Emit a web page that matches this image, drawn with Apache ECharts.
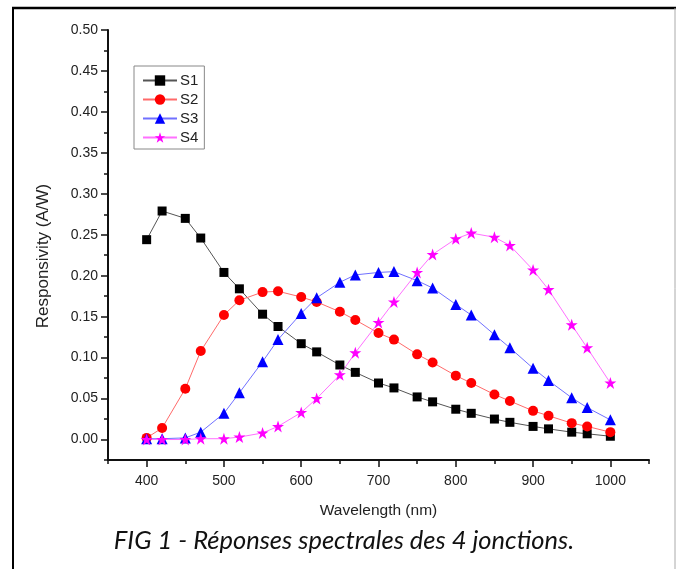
<!DOCTYPE html>
<html>
<head>
<meta charset="utf-8">
<script src="https://cdn.jsdelivr.net/npm/echarts@6/dist/echarts.min.js"></script>
<style>
	html, body { margin: 0; padding: 0; background: #fff; }
	#chart { width: 676px; height: 569px; }
</style>
</head>
<body>
<div id="chart"></div>
<script>
	// wavelengths (nm)
	var wavelengths = [400, 420, 450, 470, 500, 520, 550, 570, 600, 620, 650, 670, 700,
		720, 750, 770, 800, 820, 850, 870, 900, 920, 950, 970, 1000];

	// responsivity (A/W)
	var s1 = [0.244, 0.279, 0.270, 0.246, 0.204, 0.184, 0.153, 0.138, 0.117, 0.107, 0.091, 0.082, 0.069,
		0.063, 0.052, 0.046, 0.037, 0.032, 0.025, 0.021, 0.016, 0.013, 0.009, 0.007, 0.004];
	var s2 = [0.002, 0.014, 0.062, 0.108, 0.152, 0.170, 0.180, 0.181, 0.174, 0.168, 0.156, 0.146, 0.130,
		0.122, 0.104, 0.094, 0.078, 0.069, 0.055, 0.047, 0.035, 0.029, 0.020, 0.016, 0.009];
	var s3 = [0.001, 0.001, 0.002, 0.009, 0.032, 0.057, 0.095, 0.122, 0.154, 0.173, 0.192, 0.201, 0.204,
		0.205, 0.194, 0.185, 0.165, 0.152, 0.128, 0.112, 0.087, 0.072, 0.051, 0.039, 0.024];
	var s4 = [0.000, 0.000, 0.000, 0.001, 0.001, 0.003, 0.008, 0.016, 0.033, 0.050, 0.079, 0.106, 0.143,
		0.168, 0.204, 0.226, 0.245, 0.252, 0.247, 0.237, 0.207, 0.183, 0.140, 0.112, 0.069];

	var seriesNames = ['S1', 'S2', 'S3', 'S4'];

	// tick labels
	var xTicks = [400, 500, 600, 700, 800, 900, 1000];
	var yTicks = [0, 0.05, 0.10, 0.15, 0.20, 0.25, 0.30, 0.35, 0.40, 0.45, 0.50];

	var caption = 'FIG 1 - Réponses spectrales des 4 jonctions.';

	function pairs(ys) {
		return wavelengths.map(function(x, i) { return [x, ys[i]]; });
	}

	var font = 'Liberation Sans';
	var axisColor = '#111';

	function makeSeries(name, ys, symbol, size, markColor, lineColor) {
		return {
			name: name,
			type: 'line',
			xAxisIndex: 0,
			yAxisIndex: 0,
			symbol: symbol,
			symbolSize: size,
			showAllSymbol: true,
			lineStyle: { color: lineColor, width: 1 },
			itemStyle: { color: markColor, borderWidth: 0 },
			data: pairs(ys)
		};
	}

	var option = {
		backgroundColor: '#fff',
		animation: false,
		grid: { left: 108, right: 27, top: 30, bottom: 109 },
		legend: {
			orient: 'vertical',
			left: 134,
			top: 66,
			padding: [7, 6, 4, 8],
			itemGap: 4,
			itemWidth: 34,
			itemHeight: 13,
			borderColor: '#888',
			borderWidth: 1,
			textStyle: { fontFamily: font, fontSize: 15, color: '#222', padding: [0, 0, 0, -2] },
			data: seriesNames
		},
		xAxis: [{
			type: 'value',
			min: 350,
			max: 1050,
			name: 'Wavelength (nm)',
			nameLocation: 'middle',
			nameGap: 43,
			nameTextStyle: { fontFamily: font, fontSize: 15.5, color: '#222' },
			axisLine: { onZero: false, lineStyle: { color: axisColor, width: 2 } },
			axisTick: { customValues: xTicks, length: 7, lineStyle: { color: axisColor, width: 1.5 } },
			axisLabel: {
				customValues: xTicks,
				margin: 14,
				fontFamily: font,
				fontSize: 14,
				color: '#222',
				formatter: function(v) { return String(v); }
			},
			splitLine: { show: false }
		}, {
			type: 'value',
			position: 'bottom',
			min: 350,
			max: 1050,
			interval: 50,
			axisLine: { show: false, onZero: false },
			axisTick: { length: 4, lineStyle: { color: axisColor, width: 1.5 } },
			axisLabel: { show: false },
			splitLine: { show: false }
		}],
		yAxis: [{
			type: 'value',
			min: -0.025,
			max: 0.5,
			name: 'Responsivity (A/W)',
			nameLocation: 'middle',
			nameGap: 56,
			nameTextStyle: { fontFamily: font, fontSize: 17, color: '#222', padding: [0, 22, 0, 0] },
			axisLine: { show: true, onZero: false, lineStyle: { color: axisColor, width: 2 } },
			axisTick: { customValues: yTicks, length: 7, lineStyle: { color: axisColor, width: 1.5 } },
			axisLabel: {
				customValues: yTicks,
				margin: 10,
				fontFamily: font,
				fontSize: 14,
				color: '#222',
				formatter: function(v) { return v.toFixed(2); }
			},
			splitLine: { show: false }
		}, {
			type: 'value',
			position: 'left',
			min: -0.025,
			max: 0.5,
			interval: 0.025,
			axisLine: { show: false, onZero: false },
			axisTick: { show: true, length: 4, lineStyle: { color: axisColor, width: 1.5 } },
			axisLabel: { show: false },
			splitLine: { show: false }
		}],
		graphic: [
			{ type: 'line', shape: { x1: 12, y1: 8, x2: 676, y2: 8 }, style: { stroke: '#000', lineWidth: 2.5 } },
			{ type: 'line', shape: { x1: 13, y1: 8, x2: 13, y2: 569 }, style: { stroke: '#000', lineWidth: 2 } },
			{ type: 'line', shape: { x1: 675, y1: 8, x2: 675, y2: 569 }, style: { stroke: '#aaa', lineWidth: 1 } },
			{
				type: 'text',
				x: 344,
				y: 541,
				style: {
					text: caption,
					font: 'italic 25.5px Lato',
					fill: '#111',
					align: 'center',
					verticalAlign: 'middle',
					textAlign: 'center',
					textVerticalAlign: 'middle'
				}
			}
		],
		series: [
			makeSeries('S1', s1, 'rect', 9, '#000', '#555'),
			makeSeries('S2', s2, 'circle', 10, '#ff0000', '#ff6a6a'),
			makeSeries('S3', s3, 'triangle', 11, '#0000ff', '#7070ff'),
			makeSeries('S4', s4, 'path://M50,0 L61.8,35.5 L99,35.5 L69.1,57.5 L80.9,95 L50,72 L19.1,95 L30.9,57.5 L1,35.5 L38.2,35.5 Z', 12, '#ff00ff', '#ff70ff')
		]
	};

	var myChart = echarts.init(document.getElementById('chart'));
	myChart.setOption(option);
</script>
</body>
</html>
